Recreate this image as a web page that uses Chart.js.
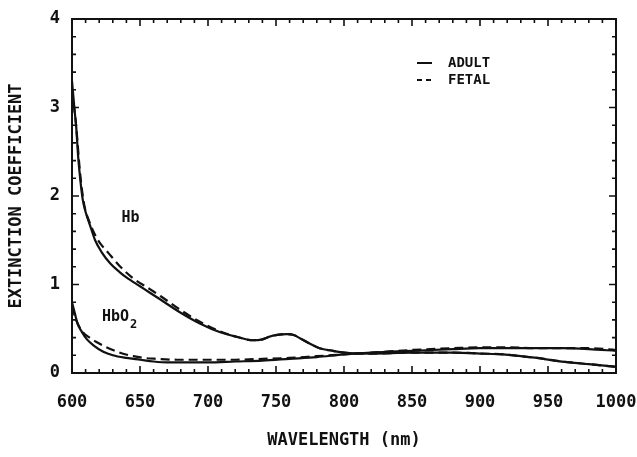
<!DOCTYPE html>
<html><head><meta charset="utf-8">
<script src="https://cdn.jsdelivr.net/npm/chart.js@4"></script>
<style>html,body{margin:0;padding:0;background:#fff}#wrap{width:637px;height:457px}</style>
</head><body><div id="wrap"><canvas id="c" width="637" height="457"></canvas></div>
<script>
// ---- data ----
const hbAdultWl  = [600,602,603,604.5,606,608,610,613,617,622,628,635,640,650,657,665,679,694,709,721,733,740,745,751,758,763,768,775,782,792,800,820,850,880,900,917,930,942,955,966,980,1000];
const hbAdultVal = [3.3,2.95,2.8,2.45,2.2,1.95,1.82,1.68,1.5,1.36,1.24,1.14,1.08,0.98,0.91,0.83,0.69,0.56,0.46,0.41,0.37,0.38,0.41,0.43,0.44,0.43,0.39,0.33,0.28,0.25,0.23,0.22,0.23,0.23,0.22,0.21,0.19,0.17,0.14,0.12,0.10,0.07];

const hbFetalWl  = [600,603,606,609,613,617,621,626,635,645,657,665,679,694,709,721,733,740,745,751,758,763,768,775,782,792,800,820,850,880,900,917,930,942,955,966,980,1000];
const hbFetalVal = [3.2,2.8,2.25,1.9,1.7,1.56,1.46,1.37,1.21,1.07,0.95,0.87,0.72,0.58,0.47,0.41,0.37,0.38,0.41,0.43,0.44,0.43,0.39,0.33,0.28,0.25,0.23,0.22,0.23,0.23,0.22,0.21,0.19,0.17,0.14,0.12,0.10,0.07];

const hbo2AdultWl  = [600,602,604,607,611,616,623,630,640,650,660,670,685,700,720,740,760,780,800,820,850,880,900,920,942,960,980,1000];
const hbo2AdultVal = [0.80,0.68,0.56,0.47,0.38,0.31,0.24,0.20,0.17,0.15,0.13,0.12,0.12,0.12,0.13,0.14,0.16,0.18,0.21,0.23,0.25,0.27,0.28,0.28,0.28,0.28,0.27,0.25];

const hbo2FetalWl  = [600,603,608,613,618,624,630,637,645,653,662,677,690,705,720,740,760,780,800,820,850,880,900,920,942,960,980,1000];
const hbo2FetalVal = [0.75,0.60,0.46,0.40,0.35,0.30,0.26,0.22,0.19,0.17,0.16,0.15,0.15,0.15,0.15,0.16,0.17,0.19,0.21,0.23,0.26,0.28,0.29,0.29,0.28,0.28,0.28,0.26];

const xTickValues = [600,650,700,750,800,850,900,950,1000];
const yTickValues = [0,1,2,3,4];
const legendLabels = ['ADULT','FETAL'];
const xTitle = 'WAVELENGTH (nm)';
const yTitle = 'EXTINCTION COEFFICIENT';

// ---- styles ----
const INK = '#111';
const FONT = '"DejaVu Sans Mono", "Liberation Mono", monospace';
const pts = (w, v) => w.map((x, i) => ({x, y: v[i]}));

const frame = {
  id: 'frame',
  afterDatasetsDraw(chart) {
    const {ctx, chartArea: a, scales: {x, y}} = chart;
    ctx.save();
    ctx.strokeStyle = INK;
    ctx.lineWidth = 2;
    ctx.strokeRect(a.left, a.top, a.right - a.left, a.bottom - a.top);
    ctx.lineWidth = 1.6;
    ctx.beginPath();
    for (let w = 600; w <= 1000; w += 10) {
      const px = x.getPixelForValue(w);
      const len = (w % 50 === 0) ? 7 : 4;
      ctx.moveTo(px, a.bottom); ctx.lineTo(px, a.bottom - len);
      ctx.moveTo(px, a.top); ctx.lineTo(px, a.top + len);
    }
    for (let k = 0; k <= 20; k++) {
      const v = k * 0.2;
      const py = y.getPixelForValue(v);
      const len = (k % 5 === 0) ? 7 : 4;
      ctx.moveTo(a.left, py); ctx.lineTo(a.left + len, py);
      ctx.moveTo(a.right, py); ctx.lineTo(a.right - len, py);
    }
    ctx.stroke();

    // legend
    ctx.fillStyle = INK;
    ctx.font = 'bold 14px ' + FONT;
    ctx.textBaseline = 'middle';
    ctx.textAlign = 'left';
    const lx = x.getPixelForValue(1000) - 199, rows = [a.top + 44, a.top + 61];
    ctx.lineWidth = 2;
    ctx.beginPath(); ctx.moveTo(lx, rows[0]); ctx.lineTo(lx + 15, rows[0]); ctx.stroke();
    ctx.setLineDash([5, 4]);
    ctx.beginPath(); ctx.moveTo(lx, rows[1]); ctx.lineTo(lx + 15, rows[1]); ctx.stroke();
    ctx.setLineDash([]);
    ctx.fillText(legendLabels[0], lx + 31, rows[0]);
    ctx.fillText(legendLabels[1], lx + 31, rows[1]);

    // curve labels
    ctx.font = 'bold 15px ' + FONT;
    ctx.textAlign = 'center';
    ctx.fillText('Hb', x.getPixelForValue(643), y.getPixelForValue(1.75));
    ctx.textAlign = 'left';
    const hx = x.getPixelForValue(622), hy = y.getPixelForValue(0.63);
    ctx.fillText('HbO', hx, hy);
    const w = ctx.measureText('HbO').width;
    ctx.font = 'bold 12px ' + FONT;
    ctx.fillText('2', hx + w + 1, hy + 8);
    ctx.restore();
  }
};

const tickFont = {family: FONT, size: 17, weight: 'bold', lineHeight: 1};

new Chart(document.getElementById('c'), {
  type: 'line',
  data: {
    datasets: [
      {label: 'Hb ' + legendLabels[0], data: pts(hbAdultWl, hbAdultVal), borderColor: INK, borderWidth: 2.2},
      {label: 'HbO2 ' + legendLabels[0], data: pts(hbo2AdultWl, hbo2AdultVal), borderColor: INK, borderWidth: 2.2},
      {label: 'Hb ' + legendLabels[1], data: pts(hbFetalWl, hbFetalVal), borderColor: INK, borderWidth: 2.2, borderDash: [9, 5]},
      {label: 'HbO2 ' + legendLabels[1], data: pts(hbo2FetalWl, hbo2FetalVal), borderColor: INK, borderWidth: 2.2, borderDash: [9, 5]}
    ]
  },
  options: {
    responsive: false, animation: false, devicePixelRatio: 1,
    layout: {padding: {top: 19, right: 0, left: 0, bottom: 0}},
    elements: {point: {radius: 0}, line: {cubicInterpolationMode: 'monotone', fill: false}},
    plugins: {legend: {display: false}, tooltip: {enabled: false}},
    scales: {
      x: {
        type: 'linear', min: 600, max: 1000,
        afterBuildTicks: s => { s.ticks = xTickValues.map(v => ({value: v})); },
        afterFit: s => { s.height = 84; s.paddingLeft = 0; s.paddingRight = 21; },
        grid: {display: false, drawTicks: false}, border: {display: false},
        ticks: {color: INK, font: tickFont, padding: 21, maxRotation: 0, autoSkip: false, callback: v => String(v)},
        title: {display: true, text: xTitle, color: INK, font: tickFont, padding: {top: 0, bottom: 8}}
      },
      y: {
        type: 'linear', min: 0, max: 4,
        afterBuildTicks: s => { s.ticks = yTickValues.map(v => ({value: v})); },
        afterFit: s => { s.width = 72; s.paddingTop = 0; s.paddingBottom = 0; },
        grid: {display: false, drawTicks: false}, border: {display: false},
        ticks: {color: INK, font: tickFont, padding: 12, callback: v => String(v)},
        title: {display: true, text: yTitle, color: INK, font: tickFont, padding: {top: 8, bottom: 0}}
      }
    }
  },
  plugins: [frame]
});
</script>
</body></html>
